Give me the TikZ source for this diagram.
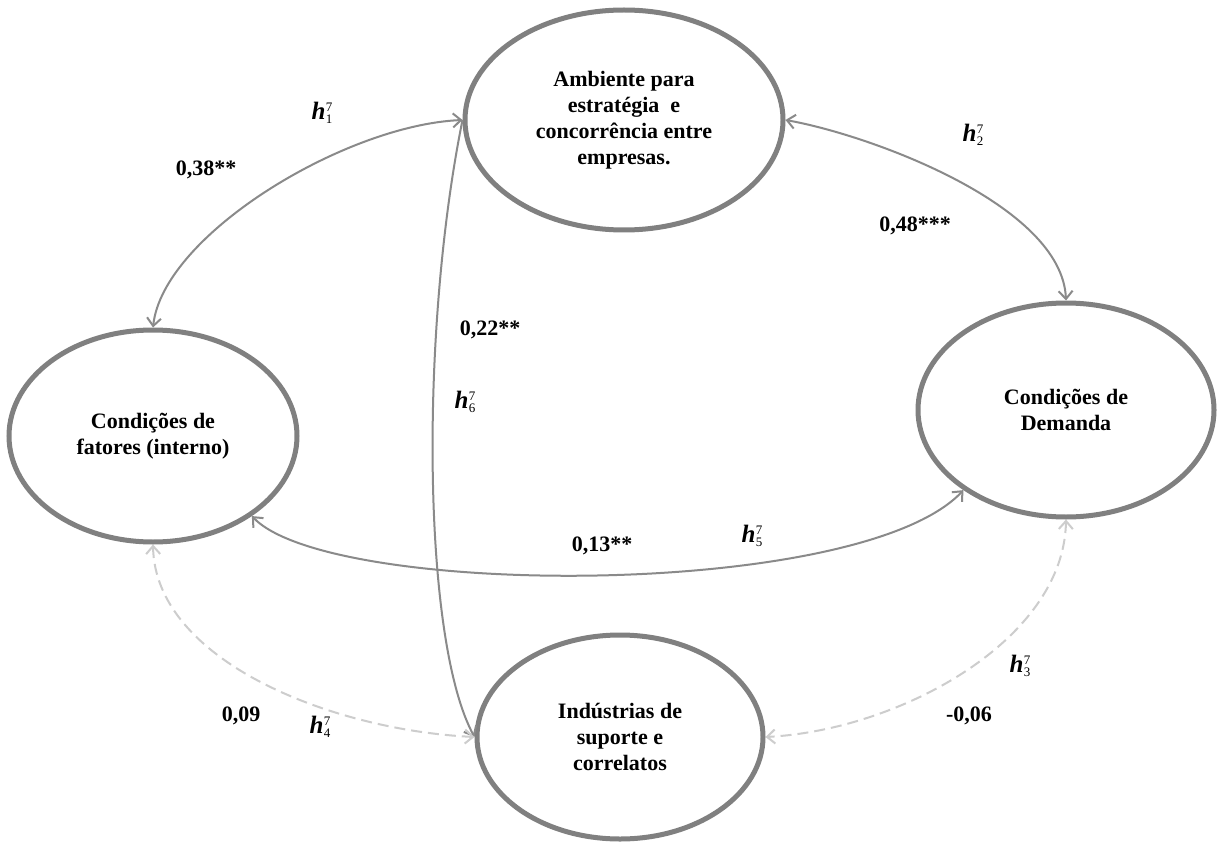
\documentclass[tikz,border=0pt]{standalone}
\usepackage{fontspec}
\setmainfont{Liberation Serif}
\usetikzlibrary{shapes.geometric,arrows.meta}
\definecolor{rim}{RGB}{128,128,128}
\definecolor{linkgray}{RGB}{138,138,138}
\definecolor{weakgray}{RGB}{205,205,205}
% path coefficient symbol: bold italic h with stacked indices
\newcommand\hsym[1]{{\fontsize{25}{25}\selectfont\bfseries\itshape h}\kern0.5pt\raisebox{-4pt}{\fontsize{13}{12}\selectfont\begin{tabular}[b]{@{}l@{}}7\\#1\end{tabular}}}
\begin{document}
\begin{tikzpicture}[x=1pt,y=-1pt,
  construct/.style={ellipse, draw=rim, line width=5pt, inner sep=0pt, align=center,
    font=\fontsize{22}{26}\selectfont\bfseries},
  link/.style={draw=linkgray, line width=2pt, >={Straight Barb[length=8pt,width=14pt]}},
  weaklink/.style={draw=weakgray, line width=2pt, dash pattern=on 11pt off 6pt,
    >={Straight Barb[length=8pt,width=14pt]}},
  coef/.style={font=\fontsize{22}{22}\selectfont\bfseries, inner sep=0pt},
  hlabel/.style={inner sep=0pt}]
\fill[white] (0,0) rectangle (1217,842);
\useasboundingbox (0,0) rectangle (1217,842);

% constructs
\node[construct, minimum width=318pt, minimum height=220pt] (amb) at (624,120)
  {Ambiente para\\estratégia\ \ e\\concorrência entre\\empresas.};
\node[construct, minimum width=288pt, minimum height=212pt] (fat) at (153,436)
  {Condições de\\fatores (interno)};
\node[construct, minimum width=296pt, minimum height=214pt] (dem) at (1066,410)
  {Condições de\\Demanda};
\node[construct, minimum width=286pt, minimum height=204pt] (ind) at (620,737)
  {Indústrias de\\suporte e\\correlatos};

% relations
\draw[link,<->] (fat.north) .. controls (163,235) and (345,125) .. (amb.west);
\draw[link,<->] (amb.east) .. controls (870,135) and (1062,205) .. (dem.north);
\draw[link,->] (amb.west) .. controls (420,330) and (422,640) .. (ind.west);
\draw[link,<->] (fat.-39) .. controls (330,598) and (860,600) .. (dem.-142);
\draw[weaklink,<->] (fat.south) .. controls (155,660) and (330,730) .. (ind.west);
\draw[weaklink,<->] (dem.south) .. controls (1064,640) and (900,730) .. (ind.east);

% coefficients
\node[hlabel] (h1) at (322,115) {\hsym{1}};
\node[coef] (c1) at (206,170) {0,38**};
\node[hlabel] (h2) at (973,137) {\hsym{2}};
\node[coef] (c2) at (915,226) {0,48***};
\node[coef] (c6) at (490,330) {0,22**};
\node[hlabel] (h6) at (465,404) {\hsym{6}};
\node[coef] (c5) at (602,546) {0,13**};
\node[hlabel] (h5) at (752,538) {\hsym{5}};
\node[coef] (c4) at (241,716) {0,09};
\node[hlabel] (h4) at (320,729) {\hsym{4}};
\node[coef] (c3) at (969,716) {-0,06};
\node[hlabel] (h3) at (1020,668) {\hsym{3}};
\end{tikzpicture}
\end{document}
